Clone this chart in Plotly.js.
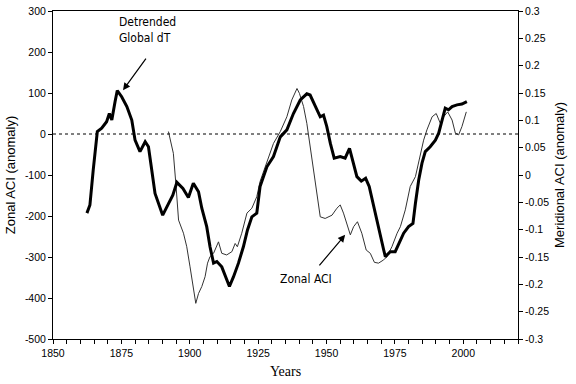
<!DOCTYPE html>
<html>
<head>
<meta charset="utf-8">
<script src="https://cdn.plot.ly/plotly-3.0.1.min.js"></script>
<style>
html,body{margin:0;padding:0;background:#fff;}
#chart{width:576px;height:384px;}
</style>
</head>
<body>
<div id="chart"></div>
<script>
// Detrended Global dT (thick line), in left-axis units
const dtYears = [1862.4,1863.5,1864.7,1866.2,1867.8,1869.6,1870.6,1871.5,1872.7,1873.5,1875.1,1877.0,1878.8,1880.0,1881.8,1883.7,1884.9,1885.5,1886.1,1887.3,1888.5,1890.1,1892.0,1893.8,1895.3,1897.5,1899.5,1901.3,1903.2,1904.4,1906.2,1907.4,1908.7,1909.9,1911.7,1913.3,1914.5,1916.0,1917.8,1919.6,1921.1,1922.7,1924.5,1925.7,1928.2,1930.6,1933.1,1935.5,1937.9,1940.4,1942.8,1944.0,1945.9,1947.7,1948.9,1950.1,1951.4,1952.8,1955.0,1956.8,1958.4,1959.9,1961.1,1962.7,1964.3,1965.6,1966.8,1968.4,1969.6,1970.9,1971.5,1973.3,1975.1,1976.3,1978.2,1980.0,1981.6,1982.5,1983.7,1984.9,1986.1,1987.9,1989.8,1991.0,1992.2,1993.4,1994.6,1995.9,1997.7,1999.5,2001.3];
const dtValues = [-193,-173,-88,6,14,30,50,34,79,106,91,67,34,-15,-43,-19,-31,-55,-88,-145,-169,-198,-173,-149,-118,-133,-155,-120,-141,-181,-226,-275,-315,-311,-324,-352,-372,-348,-315,-275,-234,-202,-193,-128,-80,-55,-7,10,50,83,98,95,67,42,46,18,-23,-59,-55,-59,-35,-71,-104,-115,-108,-128,-165,-210,-250,-283,-299,-287,-287,-271,-242,-226,-218,-169,-112,-71,-43,-31,-15,2,34,63,59,67,71,73,79];

// Zonal ACI (thin line)
const aciYears = [1892.2,1894.0,1895.0,1895.9,1897.7,1898.9,1900.1,1901.3,1902.2,1903.2,1904.4,1905.6,1906.5,1907.4,1908.7,1910.5,1911.7,1913.5,1915.4,1916.6,1917.4,1919.0,1920.9,1922.7,1924.5,1925.7,1927.6,1929.1,1930.6,1933.1,1935.5,1937.3,1939.2,1940.1,1941.6,1942.8,1944.0,1945.3,1946.5,1947.7,1949.5,1952.0,1953.8,1955.0,1956.2,1957.5,1958.7,1959.9,1961.3,1962.9,1964.5,1966.0,1967.5,1969.0,1970.9,1972.1,1973.9,1975.8,1977.0,1978.8,1980.6,1982.5,1983.7,1985.5,1986.7,1988.6,1990.1,1991.6,1992.8,1994.3,1995.9,1997.1,1998.3,1999.5,2001.1];
const aciValues = [6,-47,-128,-210,-242,-275,-324,-372,-413,-389,-372,-348,-315,-299,-291,-263,-291,-295,-287,-267,-275,-242,-193,-181,-153,-116,-80,-55,-23,6,42,83,111,99,67,26,-31,-96,-153,-202,-206,-198,-181,-173,-193,-218,-246,-226,-214,-242,-283,-291,-313,-315,-307,-299,-275,-242,-226,-185,-128,-104,-71,-15,10,42,50,26,42,54,34,2,-2,18,54];

// Tick labels
const xTickVals = [1850,1875,1900,1925,1950,1975,2000];
const xTickText = ['1850','1875','1900','1925','1950','1975','2000'];
const yTickVals = [-500,-400,-300,-200,-100,0,100,200,300];
const yTickText = ['-500','-400','-300','-200','-100','0','100','200','300'];
const y2TickVals = [-0.3,-0.25,-0.2,-0.15,-0.1,-0.05,0,0.05,0.1,0.15,0.2,0.25,0.3];
const y2TickText = ['-0.3','-0.25','-0.2','-0.15','-0.1','-0.05','0','0.05','0.1','0.15','0.2','0.25','0.3'];

const tickFont = {family:'Liberation Sans, Arial, sans-serif', size:10.5, color:'#000'};
const annFont = {family:'DejaVu Sans Condensed, Liberation Sans Narrow, Arial Narrow, sans-serif', size:12, color:'#000'};

const traces = [
  {x: aciYears, y: aciValues, type:'scatter', mode:'lines', name:'Zonal ACI',
   line:{color:'#333', width:1}, xaxis:'x', yaxis:'y'},
  {x: dtYears, y: dtValues, type:'scatter', mode:'lines', name:'Detrended Global dT',
   line:{color:'#000', width:3}, xaxis:'x', yaxis:'y'},
  // empty trace so the right-hand (meridional) axis is drawn
  {x: [], y: [], type:'scatter', mode:'lines', name:'Meridional ACI',
   xaxis:'x', yaxis:'y2', hoverinfo:'skip', showlegend:false}
];

const layout = {
  width:576, height:384,
  margin:{l:53, r:58, t:11, b:45},
  paper_bgcolor:'#fff', plot_bgcolor:'#fff',
  showlegend:false,
  xaxis:{
    range:[1850,2020], tickmode:'array', tickvals:xTickVals, ticktext:xTickText,
    ticks:'outside', ticklen:4, tickwidth:1, tickcolor:'#000',
    minor:{dtick:5, tick0:1850, ticks:'outside', ticklen:4, tickwidth:1, tickcolor:'#000', showgrid:false},
    showline:true, linecolor:'#000', linewidth:1, mirror:true,
    showgrid:false, zeroline:false, tickfont:tickFont,
    title:{text:'Years', font:{family:'Liberation Serif, Times New Roman, serif', size:14, color:'#000'}, standoff:8}
  },
  yaxis:{
    range:[-500,300], tickmode:'array', tickvals:yTickVals, ticktext:yTickText,
    ticks:'outside', ticklen:4, tickwidth:1, tickcolor:'#000',
    showline:true, linecolor:'#000', linewidth:1,
    showgrid:false, zeroline:false, tickfont:tickFont,
    title:{text:'Zonal ACI (anomaly)', font:{family:'Liberation Sans, Arial, sans-serif', size:13, color:'#000'}, standoff:6}
  },
  yaxis2:{
    overlaying:'y', side:'right', anchor:'x',
    range:[-0.3,0.3], autorange:false, tickmode:'array', tickvals:y2TickVals, ticktext:y2TickText,
    ticks:'outside', ticklen:4, tickwidth:1, tickcolor:'#000',
    showline:true, linecolor:'#000', linewidth:1,
    showgrid:false, zeroline:false, tickfont:tickFont,
    title:{text:'Meridional ACI (anomaly)', font:{family:'Liberation Sans, Arial, sans-serif', size:13, color:'#000'}, standoff:6}
  },
  shapes:[
    {type:'line', xref:'paper', x0:0, x1:1, yref:'y', y0:0, y1:0,
     line:{color:'#000', width:1, dash:'dot'}}
  ],
  annotations:[
    {xref:'x', yref:'y', x:1884.7, y:254, text:'Detrended<br>Global dT', showarrow:false,
     font:annFont, align:'left'},
    {xref:'x', yref:'y', x:1875.6, y:107, text:'', showarrow:true, ax:24, ay:-33,
     arrowhead:2, arrowsize:1.2, arrowwidth:1.2, arrowcolor:'#000'},
    {xref:'x', yref:'y', x:1942.6, y:-354, text:'Zonal ACI', showarrow:false, font:annFont},
    {xref:'x', yref:'y', x:1956.8, y:-246, text:'', showarrow:true, ax:-27, ay:32,
     arrowhead:2, arrowsize:1.2, arrowwidth:1.2, arrowcolor:'#000'}
  ]
};

Plotly.newPlot('chart', traces, layout, {staticPlot:true, displayModeBar:false});
</script>
</body>
</html>
